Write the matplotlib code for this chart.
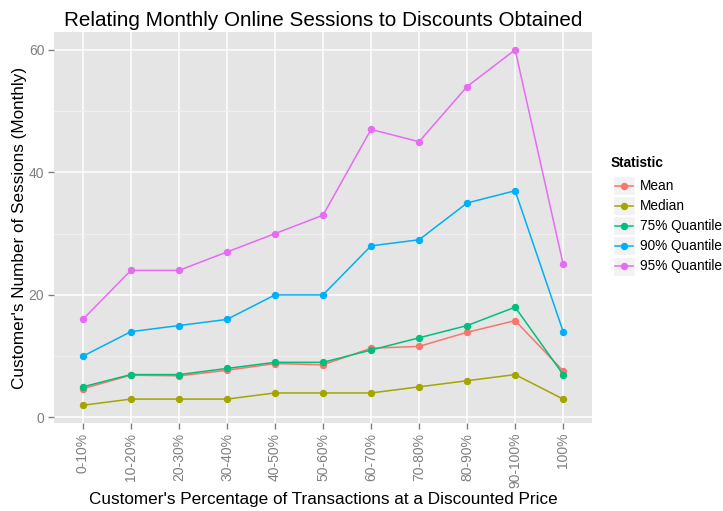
import numpy as np
import matplotlib.pyplot as plt
from matplotlib.patches import Rectangle
from matplotlib.lines import Line2D

plt.rcParams['font.family'] = ['Liberation Sans', 'DejaVu Sans']

# ---------------------------------------------------------------------------
# Data
# ---------------------------------------------------------------------------
categories = ['0-10%', '10-20%', '20-30%', '30-40%', '40-50%', '50-60%',
              '60-70%', '70-80%', '80-90%', '90-100%', '100%']

mean_vals = [4.7, 6.9, 6.8, 7.7, 8.8, 8.6, 11.3, 11.6, 13.9, 15.8, 7.6]
median_vals = [2, 3, 3, 3, 4, 4, 4, 5, 6, 7, 3]
q75_vals = [5, 7, 7, 8, 9, 9, 11, 13, 15, 18, 7]
q90_vals = [10, 14, 15, 16, 20, 20, 28, 29, 35, 37, 14]
q95_vals = [16, 24, 24, 27, 30, 33, 47, 45, 54, 60, 25]

series_names = ['Mean', 'Median', '75% Quantile', '90% Quantile', '95% Quantile']
series_vals = [mean_vals, median_vals, q75_vals, q90_vals, q95_vals]
series_colors = ['#F8766D', '#A3A500', '#00BF7D', '#00B0F6', '#E76BF3']

# ---------------------------------------------------------------------------
# Figure
# ---------------------------------------------------------------------------
fig = plt.figure(figsize=(7.23, 5.11), dpi=100)
ax = fig.add_axes([54 / 723, 1 - 423 / 511, (592 - 54) / 723, (423 - 32) / 511])
ax.set_facecolor('#E5E5E5')
for spine in ax.spines.values():
    spine.set_visible(False)

x = np.arange(len(categories))
for vals, color in zip(series_vals, series_colors):
    ax.plot(x, vals, color=color, lw=1.1, marker='o', ms=4.3, zorder=3)

ax.set_xlim(-0.6, len(categories) - 0.4)
ax.set_ylim(-0.9, 62.9)
ax.set_xticks(x)
ax.set_xticklabels(categories, rotation=90)
ax.set_yticks([0, 20, 40, 60])
ax.set_yticks([10, 30, 50], minor=True)
ax.grid(True, which='major', color='white', lw=1.1)
ax.grid(True, which='minor', axis='y', color='#F2F2F2', lw=0.6)
ax.set_axisbelow(True)
ax.tick_params(axis='both', which='major', colors='#7F7F7F', labelsize=10,
               length=4, width=1, pad=3)
ax.tick_params(axis='y', which='minor', length=0)
for lab in ax.get_xticklabels() + ax.get_yticklabels():
    lab.set_color('#7F7F7F')

ax.set_xlabel("Customer's Percentage of Transactions at a Discounted Price",
              fontsize=12.3, color='black', labelpad=3)
ax.set_ylabel("Customer's Number of Sessions (Monthly)", fontsize=12.3,
              color='black', labelpad=1)
fig.text((54 + 592) / 2 / 723, 1 - 20 / 511,
         'Relating Monthly Online Sessions to Discounts Obtained',
         ha='center', va='center', fontsize=14.9)

# ---------------------------------------------------------------------------
# Legend (ggplot style, drawn by hand)
# ---------------------------------------------------------------------------
W, H = 723, 511
fig.text(611 / W, 1 - 163 / H, 'Statistic', fontsize=9.8, fontweight='bold',
         ha='left', va='center')
for i, (name, color) in enumerate(zip(series_names, series_colors)):
    yc = 186 + 20 * i
    fig.patches.append(Rectangle((613 / W, 1 - (yc + 9.5) / H), 22 / W, 19 / H,
                                 transform=fig.transFigure, facecolor='#F2F2F2',
                                 edgecolor='white', lw=1))
    fig.lines.append(Line2D([615 / W, 633 / W], [1 - yc / H, 1 - yc / H],
                            transform=fig.transFigure, color=color, lw=1.1))
    fig.lines.append(Line2D([624 / W], [1 - yc / H], transform=fig.transFigure,
                            color=color, marker='o', ms=4.3))
    fig.text(640 / W, 1 - yc / H, name, fontsize=9.8, ha='left', va='center')

fig.savefig('out.png', dpi=100)
